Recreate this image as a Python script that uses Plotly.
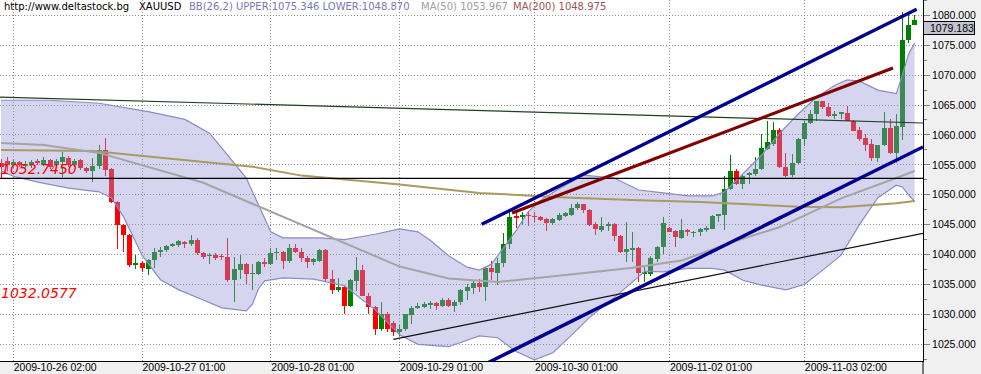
import plotly.graph_objects as go

# ---------------- data (hourly bars, index 0..149) ----------------
opens = [1055.3, 1055.6, 1054.9, 1055.4, 1054.8, 1054.9, 1055.7, 1055.05, 1055.85, 1054.9,
         1055.55, 1056.2, 1054.9, 1055.8, 1054.45, 1053.9, 1054.8, 1057.5, 1054.3, 1048.8,
         1045.0, 1043.3, 1038.2, 1038.65, 1037.6, 1039.05, 1040.45, 1040.7, 1041.45, 1041.55,
         1042.1, 1041.7, 1042.5, 1040.3, 1039.7, 1039.9, 1039.75, 1039.6, 1035.7, 1037.5,
         1038.4, 1036.8, 1036.8, 1038.7, 1038.4, 1040.3, 1040.4, 1038.85, 1041.1, 1040.4,
         1039.5, 1038.7, 1039.0, 1040.8, 1036.0, 1034.1, 1034.6, 1031.4, 1035.64, 1037.44,
         1033.12, 1031.27, 1027.63, 1030.04, 1028.64, 1027.07, 1027.52, 1029.87, 1031.1, 1031.27,
         1031.55, 1031.83, 1031.44, 1032.39, 1031.44, 1032.0, 1033.9, 1034.36, 1035.2, 1034.64,
         1037.83, 1036.9, 1038.61, 1041.78, 1046.3, 1046.22, 1046.55, 1046.4, 1046.22, 1045.94,
         1045.22, 1045.78, 1046.5, 1046.67, 1047.72, 1048.44, 1047.5, 1045.11, 1044.17, 1044.83,
         1045.11, 1043.17, 1040.39, 1040.94, 1041.06, 1036.89, 1036.78, 1039.28, 1041.22, 1044.39,
         1044.0, 1042.78, 1044.17, 1043.7, 1043.72, 1044.11, 1044.28, 1046.58, 1046.56, 1051.0,
         1053.94, 1051.72, 1053.45, 1053.5, 1054.33, 1057.67, 1058.5, 1060.83, 1054.72, 1053.33,
         1055.33, 1059.33, 1062.0, 1063.5, 1065.61, 1064.61, 1063.22, 1063.63, 1063.67, 1062.39,
         1060.83, 1059.5, 1058.5, 1056.17, 1058.33, 1061.17, 1057.0, 1061.3, 1075.8, 1078.4]
highs = [1056.0, 1056.3, 1055.8, 1055.7, 1055.6, 1055.8, 1055.9, 1056.3, 1056.0, 1056.0,
         1057.1, 1056.5, 1056.0, 1056.0, 1054.6, 1056.1, 1058.3, 1059.5, 1054.4, 1048.9,
         1045.1, 1043.4, 1040.0, 1039.0, 1039.2, 1041.1, 1041.2, 1041.6, 1041.9, 1042.4,
         1042.3, 1043.3, 1042.7, 1040.5, 1040.2, 1040.2, 1040.1, 1042.8, 1039.6, 1039.9,
         1038.6, 1038.4, 1038.9, 1039.4, 1041.1, 1041.1, 1040.6, 1041.75, 1041.75, 1041.1,
         1039.7, 1039.4, 1040.9, 1040.9, 1037.4, 1036.15, 1034.8, 1036.0, 1039.6, 1038.2,
         1033.6, 1031.4, 1032.0, 1030.4, 1028.9, 1028.3, 1030.1, 1031.44, 1031.83, 1032.0,
         1032.23, 1032.0, 1032.68, 1032.68, 1032.39, 1034.24, 1035.03, 1035.76, 1035.92, 1038.0,
         1038.95, 1039.4, 1043.61, 1047.33, 1047.06, 1047.06, 1047.33, 1047.06, 1046.39, 1046.1,
         1046.1, 1046.89, 1047.06, 1048.44, 1048.72, 1048.5, 1047.6, 1045.39, 1046.22, 1045.39,
         1045.2, 1043.3, 1045.39, 1043.83, 1041.2, 1037.89, 1039.83, 1041.5, 1046.22, 1044.56,
         1044.05, 1045.94, 1044.3, 1044.0, 1044.44, 1044.83, 1046.6, 1046.78, 1053.22, 1056.72,
         1054.33, 1053.5, 1053.78, 1056.28, 1060.17, 1062.39, 1062.11, 1061.11, 1057.0, 1056.83,
         1059.44, 1062.39, 1064.22, 1065.72, 1065.72, 1065.33, 1064.06, 1063.9, 1064.78, 1062.5,
         1061.28, 1060.17, 1059.33, 1058.4, 1063.78, 1062.67, 1063.5, 1080.6, 1080.1, 1080.0]
lows = [1052.8, 1054.0, 1054.5, 1054.6, 1054.5, 1054.4, 1055.0, 1054.8, 1054.3, 1054.6,
        1052.95, 1054.6, 1054.6, 1054.1, 1053.7, 1052.1, 1054.3, 1053.1, 1048.6, 1040.9,
        1040.4, 1038.0, 1037.55, 1037.1, 1036.6, 1037.8, 1039.6, 1040.5, 1041.2, 1041.3,
        1041.1, 1041.5, 1039.9, 1039.2, 1038.4, 1039.1, 1039.1, 1035.5, 1032.1, 1035.9,
        1035.0, 1034.1, 1036.6, 1038.0, 1038.3, 1039.1, 1037.55, 1038.6, 1040.2, 1038.7,
        1037.7, 1038.3, 1038.8, 1035.6, 1033.35, 1033.7, 1030.15, 1031.2, 1033.9, 1033.0,
        1030.15, 1026.62, 1027.18, 1027.07, 1026.4, 1026.4, 1027.3, 1028.47, 1030.88, 1031.0,
        1030.88, 1030.71, 1031.27, 1031.3, 1030.43, 1031.55, 1032.39, 1033.35, 1033.68, 1032.23,
        1035.76, 1034.9, 1037.89, 1040.94, 1044.39, 1044.94, 1044.83, 1045.5, 1045.67, 1044.0,
        1045.0, 1045.67, 1046.33, 1046.5, 1047.5, 1046.94, 1044.83, 1043.33, 1043.72, 1044.0,
        1042.33, 1040.28, 1038.72, 1038.72, 1035.39, 1035.39, 1036.5, 1038.72, 1040.11, 1043.72,
        1041.22, 1042.61, 1043.06, 1042.89, 1043.17, 1043.83, 1044.2, 1045.5, 1044.06, 1050.72,
        1051.56, 1050.89, 1051.83, 1053.22, 1054.06, 1057.56, 1058.22, 1054.55, 1052.94, 1052.94,
        1055.22, 1058.11, 1061.83, 1062.39, 1064.33, 1062.94, 1062.67, 1062.67, 1062.35, 1060.6,
        1059.06, 1057.39, 1055.72, 1055.56, 1058.2, 1056.83, 1055.33, 1059.2, 1075.3, 1078.4]
closes = [1054.6, 1055.0, 1055.4, 1054.9, 1055.2, 1055.55, 1055.3, 1055.85, 1054.6, 1055.7,
          1056.3, 1054.9, 1055.7, 1054.45, 1053.9, 1054.8, 1057.5, 1054.2, 1048.8, 1044.9,
          1043.2, 1038.2, 1038.65, 1037.7, 1039.05, 1040.45, 1040.85, 1041.45, 1041.7, 1042.2,
          1041.7, 1042.5, 1040.2, 1039.6, 1040.0, 1039.45, 1039.6, 1035.7, 1037.6, 1038.4,
          1036.7, 1036.9, 1038.7, 1038.4, 1040.25, 1040.4, 1038.85, 1041.1, 1040.35, 1039.4,
          1038.7, 1039.25, 1040.8, 1035.9, 1034.1, 1034.65, 1031.4, 1035.76, 1037.44, 1033.12,
          1031.16, 1027.63, 1030.15, 1027.63, 1027.07, 1027.63, 1029.99, 1031.1, 1031.44, 1031.67,
          1031.83, 1031.44, 1032.39, 1031.44, 1032.0, 1034.08, 1034.64, 1035.2, 1034.64, 1037.83,
          1037.16, 1038.6, 1041.78, 1046.22, 1046.2, 1046.61, 1046.45, 1046.3, 1045.83, 1045.22,
          1045.94, 1046.61, 1046.89, 1047.72, 1048.44, 1047.5, 1045.0, 1044.28, 1044.83, 1045.11,
          1043.06, 1040.39, 1040.94, 1041.0, 1036.94, 1036.95, 1039.39, 1041.22, 1045.22, 1043.83,
          1042.89, 1044.17, 1043.72, 1043.76, 1044.28, 1044.44, 1046.5, 1046.64, 1051.0, 1053.94,
          1051.83, 1053.22, 1053.5, 1054.33, 1057.78, 1058.78, 1060.83, 1054.61, 1053.22, 1055.33,
          1059.33, 1062.0, 1063.5, 1065.61, 1064.61, 1063.11, 1063.5, 1063.68, 1062.39, 1060.72,
          1059.33, 1058.33, 1056.17, 1058.33, 1061.17, 1057.0, 1061.44, 1075.9, 1078.4, 1079.183]
bars = list(range(len(closes)))

tick_idx = [0, 2, 23, 44, 65, 87, 109, 131]
tick_text = ['', '2009-10-26 02:00', '2009-10-27 01:00', '2009-10-28 01:00',
             '2009-10-29 01:00', '2009-10-30 01:00', '2009-11-02 01:00', '2009-11-03 02:00']

# Bollinger band (26,2) edges
bb_upper_idx = [0, 8, 16, 24, 30, 34, 37, 40, 42, 44, 46, 52, 56, 61, 65, 68, 70, 73, 76, 78,
                80, 82, 84, 86, 88, 91, 95, 100, 104, 108, 112, 116, 118, 120, 122, 124, 127,
                130, 133, 136, 138, 140, 143, 146, 147, 148, 149]
bb_upper = [1065.8, 1065.8, 1065.3, 1063.9, 1062.6, 1060.3, 1056.6, 1052.8, 1048.3, 1043.8,
            1042.8, 1042.8, 1042.5, 1043.4, 1044.3, 1043.8, 1042.4, 1039.8, 1037.9, 1037.4,
            1038.4, 1041.1, 1044.0, 1047.2, 1049.1, 1051.0, 1053.3, 1052.8, 1050.8, 1050.3,
            1049.8, 1049.8, 1050.5, 1052.5, 1054.5, 1056.6, 1060.3, 1063.5, 1066.3, 1068.3,
            1069.2, 1069.0, 1067.5, 1066.9, 1070.0, 1073.5, 1075.346]
bb_lower_idx = [0, 2, 6, 11, 16, 18, 20, 23, 26, 29, 33, 36, 40, 41, 42, 43, 46, 51, 56, 61,
                65, 68, 73, 78, 81, 84, 87, 90, 93, 96, 100, 103, 105, 108, 112, 116, 118,
                121, 124, 128, 131, 134, 137, 140, 143, 146, 147, 148, 149]
bb_lower = [1054.0, 1053.1, 1052.1, 1051.1, 1050.5, 1049.5, 1046.3, 1039.9, 1035.8, 1034.1,
            1032.4, 1031.1, 1030.6, 1031.7, 1034.3, 1035.6, 1036.1, 1035.9, 1034.8, 1030.8,
            1026.6, 1025.0, 1024.6, 1026.4, 1026.1, 1023.8, 1022.4, 1023.6, 1026.5, 1029.5,
            1032.8, 1035.5, 1037.2, 1037.1, 1037.7, 1037.7, 1037.4, 1035.7, 1034.9, 1034.1,
            1035.0, 1037.4, 1039.9, 1045.0, 1049.5, 1051.6, 1051.3, 1050.0, 1048.870]

ma50_idx = [0, 7, 16, 24, 33, 41, 49, 57, 65, 73, 81, 94, 103, 111, 119, 127, 137, 146, 149]
ma50 = [1058.65, 1058.3, 1057.0, 1054.6, 1052.0, 1048.5, 1045.0, 1041.5, 1038.0, 1036.0,
        1035.4, 1036.8, 1037.8, 1039.0, 1042.0, 1044.6, 1049.4, 1052.8, 1053.967]
ma200_idx = [0, 15, 24, 41, 49, 65, 78, 91, 104, 114, 130, 137, 146, 149]
ma200 = [1057.5, 1057.3, 1056.4, 1054.7, 1053.2, 1051.7, 1050.3, 1049.6, 1049.1, 1048.8,
         1048.0, 1047.9, 1048.6, 1048.975]

# hand-drawn trend lines (bar index, price)
blue_upper_x, blue_upper_y = [78.39, 149.33], [1045.06, 1081.0]
blue_lower_x, blue_lower_y = [79.42, 150.36], [1021.93, 1058.0]
red_line_x, red_line_y = [83.33, 145.47], [1046.95, 1071.19]
green_line_x, green_line_y = [-0.163, 150.36], [1066.33, 1062.0]
support_x, support_y = [63.98, 150.36], [1025.84, 1043.56]
level_price = 1052.745
level_labels = [1052.745, 1032.0577]

X_RANGE = [-0.163, 150.36]
Y_RANGE = [1022.21, 1082.56]
PLOT_W, PLOT_H = 923, 361
PX_X = (X_RANGE[1] - X_RANGE[0]) / PLOT_W      # bar-index units per pixel
PX_Y = (Y_RANGE[1] - Y_RANGE[0]) / PLOT_H      # price units per pixel

UP_COL = 'rgba(0,128,0,0.999)'
DN_COL = 'rgba(255,0,0,0.999)'

fig = go.Figure()

# band fill
fig.add_trace(go.Scatter(x=bb_upper_idx + bb_lower_idx[::-1], y=bb_upper + bb_lower[::-1],
                         fill='toself', fillcolor='rgba(150,150,215,0.40)',
                         line=dict(width=0), mode='lines', hoverinfo='skip'))
for xs, ys in [(bb_upper_idx, bb_upper), (bb_lower_idx, bb_lower)]:
    fig.add_trace(go.Scatter(x=xs, y=ys, mode='lines', line=dict(color='#8c8cc0', width=1.2),
                             hoverinfo='skip'))
fig.add_trace(go.Scatter(x=ma200_idx, y=ma200, mode='lines', line=dict(color='#a89a62', width=2),
                         hoverinfo='skip'))
fig.add_trace(go.Scatter(x=ma50_idx, y=ma50, mode='lines', line=dict(color='#a4a4a4', width=2),
                         hoverinfo='skip'))

# candles: wicks and bodies as pixel-snapped bars
cols = [UP_COL if c >= o else DN_COL for o, c in zip(opens, closes)]
min_body = 1.5 * PX_Y
body_h = [max(abs(c - o), min_body) for o, c in zip(opens, closes)]
body_base = [min(o, c) - (h - abs(c - o)) / 2 for o, c, h in zip(opens, closes, body_h)]
fig.add_trace(go.Bar(x=bars, y=[h - l for h, l in zip(highs, lows)], base=lows,
                     width=1.0 * PX_X, marker=dict(color=cols, line=dict(width=0)),
                     hoverinfo='skip'))
fig.add_trace(go.Bar(x=bars, y=body_h, base=body_base,
                     width=5.0 * PX_X, marker=dict(color=cols, line=dict(width=0)),
                     hoverinfo='skip'))

# trend lines
for xs, ys, col, w in [(green_line_x, green_line_y, '#1f3f1f', 1.2),
                       (support_x, support_y, '#101010', 1.2),
                       ([X_RANGE[0], X_RANGE[1]], [level_price, level_price], '#000000', 1.3),
                       (red_line_x, red_line_y, '#800000', 3.2),
                       (blue_upper_x, blue_upper_y, '#000090', 3.4),
                       (blue_lower_x, blue_lower_y, '#000090', 3.4)]:
    fig.add_trace(go.Scatter(x=xs, y=ys, mode='lines', line=dict(color=col, width=w),
                             hoverinfo='skip'))

axis_font = dict(family='Liberation Sans, Arial, sans-serif', size=10.5, color='#000000')
grid_col = '#8e8e8e'

fig.update_layout(
    width=981, height=374,
    margin=dict(l=0, r=981 - PLOT_W, t=0, b=374 - PLOT_H, pad=0),
    paper_bgcolor='#f0f0f0', plot_bgcolor='#ffffff',
    showlegend=False, barmode='overlay', bargap=0, bargroupgap=0,
    xaxis=dict(range=X_RANGE, tickmode='array',
               tickvals=tick_idx, ticktext=tick_text, ticks='', ticklabelposition='outside right',
               showgrid=True, gridcolor=grid_col, griddash='1px,2px', gridwidth=1,
               showline=True, linecolor='#000000', linewidth=1, zeroline=False,
               tickfont=axis_font, automargin=False, fixedrange=True, ticklabelstandoff=-4),
    yaxis=dict(side='right', range=Y_RANGE, tickmode='linear', tick0=1025, dtick=5,
               tickformat='.3f', ticks='outside', ticklen=6, tickcolor='#808080',
               showgrid=True, gridcolor=grid_col, griddash='1px,2px', gridwidth=1,
               showline=True, linecolor='#000000', linewidth=1, zeroline=False,
               tickfont=axis_font, automargin=False, fixedrange=True,
               minor=dict(dtick=2.5, tick0=1022.5, ticks='outside', ticklen=3,
                          tickcolor='#808080', showgrid=False)),
)

# right axis line continues through the bottom strip
fig.add_shape(type='line', xref='paper', yref='paper', x0=1, x1=1, y0=-(374 - PLOT_H) / PLOT_H, y1=0,
              line=dict(color='#000000', width=1))

# header
hdr_y = 1 - 6.3 / PLOT_H
hdr_font = 'DejaVu Sans, Verdana, sans-serif'
header = [
    ('http://www.deltastock.bg', 3, '#000000'),
    ('XAUUSD', 138, '#000000'),
    ('BB(26,2) UPPER:%.3f LOWER:%.3f' % (bb_upper[-1], bb_lower[-1]), 188, '#7878b4'),
    ('MA(50) %.3f' % ma50[-1], 420, '#a0a0a0'),
    ('MA(200) %.3f' % ma200[-1], 512, '#985454'),
]
for txt, px, col in header:
    fig.add_annotation(text=txt, xref='paper', yref='paper', x=px / PLOT_W, y=hdr_y,
                       xanchor='left', yanchor='middle', showarrow=False, borderpad=0,
                       font=dict(family=hdr_font, size=10, color=col))

# level labels
for lv in level_labels:
    fig.add_annotation(text='<i>%.4f</i>' % lv, xref='paper', yref='y', x=0, y=lv,
                       xanchor='left', yanchor='bottom', showarrow=False, borderpad=0,
                       font=dict(family='DejaVu Sans, sans-serif', size=14, color='#ff0000'))

# last price box
fig.add_annotation(text='%.3f' % closes[-1], xref='paper', yref='paper',
                   x=1.0, y=1 - 27.7 / PLOT_H, xanchor='left', yanchor='middle',
                   showarrow=False, bgcolor='#c4c4d0', bordercolor='#000000', borderwidth=1,
                   borderpad=0, width=50, height=12, align='right',
                   font=axis_font)

fig.write_html('out.html', config={'displayModeBar': False},
               post_script="document.body.style.margin='0';document.body.style.padding='0';"
                           "document.body.style.overflow='hidden';")
